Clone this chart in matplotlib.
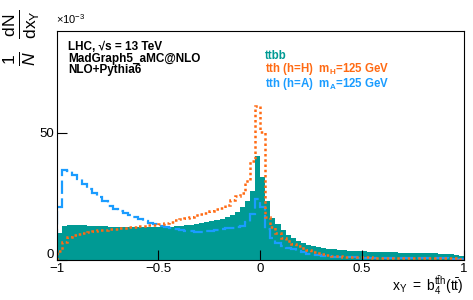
import numpy as np
import matplotlib
matplotlib.use('Agg')
import matplotlib.pyplot as plt
import matplotlib.transforms as mtransforms

plt.rcParams['font.family'] = ['Liberation Sans', 'DejaVu Sans']
plt.rcParams['mathtext.fontset'] = 'custom'
plt.rcParams['mathtext.rm'] = 'Liberation Sans'
plt.rcParams['mathtext.it'] = 'Liberation Sans:italic'
plt.rcParams['mathtext.bf'] = 'Liberation Sans:bold'

# 80 bins on [-1, 1], values in units of 1e-3
bin_edges = np.linspace(-1.0, 1.0, 81)

ttbb = [
    10.5, 13.5, 13.8, 13.8, 13.7, 13.6, 13.5, 13.4, 13.3, 13.2,
    13.1, 13.0, 13.0, 12.9, 12.9, 12.8, 12.8, 12.8, 12.8, 12.8,
    12.9, 13.0, 13.1, 13.2, 13.4, 13.6, 13.8, 14.1, 14.4, 14.8,
    15.2, 15.7, 16.2, 16.9, 17.6, 18.8, 20.8, 23.3, 27.2, 41.0,
    32.5, 23.0, 16.5, 14.0, 11.8, 10.0, 8.7, 7.5, 6.7, 6.0,
    5.5, 5.0, 4.7, 4.4, 4.2, 4.0, 3.9, 3.7, 3.6, 3.5,
    3.4, 3.3, 3.2, 3.2, 3.1, 3.0, 3.0, 2.9, 2.9, 2.8,
    2.8, 2.7, 2.7, 2.6, 2.6, 2.5, 2.5, 2.4, 2.1, 1.5,
]

tth_H = [
    3.5, 7.0, 9.0, 9.8, 10.4, 10.8, 11.1, 11.4, 11.6, 11.8,
    12.0, 12.2, 12.4, 12.6, 12.8, 13.0, 13.2, 13.4, 13.6, 13.8,
    14.1, 14.6, 15.1, 15.6, 16.0, 16.5, 17.0, 17.6, 18.0, 18.6,
    19.2, 19.9, 20.6, 21.8, 23.5, 25.3, 26.5, 31.0, 39.0, 60.5,
    50.5, 17.0, 13.0, 10.5, 8.8, 7.4, 6.3, 5.4, 4.6, 3.9,
    3.3, 2.8, 2.4, 2.0, 1.7, 1.5, 1.3, 1.2, 1.1, 1.1,
    1.0, 1.0, 0.9, 0.9, 0.9, 0.8, 0.8, 0.8, 0.8, 0.7,
    0.7, 0.7, 0.7, 0.7, 0.6, 0.6, 0.6, 0.6, 0.6, 0.5,
]

tth_A = [
    21.0, 35.2, 35.0, 33.5, 32.0, 30.0, 28.0, 26.3, 24.7, 23.0,
    21.3, 20.0, 19.2, 18.3, 17.5, 16.8, 16.0, 15.3, 14.6, 14.0,
    13.5, 13.0, 12.4, 12.0, 11.7, 11.5, 11.3, 11.2, 11.2, 11.3,
    11.5, 11.8, 12.1, 12.4, 12.7, 13.0, 13.4, 15.0, 18.0, 23.8,
    21.0, 12.0, 8.5, 6.8, 5.6, 4.8, 4.2, 3.6, 3.0, 2.5,
    2.1, 1.8, 1.6, 1.4, 1.3, 1.2, 1.1, 1.0, 1.0, 0.9,
    0.9, 0.9, 0.8, 0.8, 0.8, 0.8, 0.7, 0.7, 0.7, 0.7,
    0.7, 0.6, 0.6, 0.6, 0.6, 0.6, 0.6, 0.5, 0.5, 0.5,
]

x_ticks = [-1, -0.5, 0, 0.5, 1]
x_ticklabels = ['\u22121', '\u22120.5', '0', '0.5', '1']
y_ticks = [0, 50]

c_teal = '#009a94'
c_orange = '#ff6a13'
c_blue = '#1a9cff'

fig = plt.figure(figsize=(4.73, 3.00), dpi=100)
ax = fig.add_axes([0.1199, 0.1333, 0.8604, 0.7634])

ax.stairs(ttbb, bin_edges, fill=True, color=c_teal, lw=0)
ax.stairs(tth_A, bin_edges, color=c_blue, lw=1.6, linestyle=(0, (6, 2)))
ax.stairs(tth_H, bin_edges, color=c_orange, lw=1.8, linestyle=(0, (1, 1.1)))

ax.set_xlim(-1, 1)
ax.set_ylim(0, 90)
ax.set_xticks(x_ticks)
ax.set_xticklabels(x_ticklabels)
ax.set_yticks(y_ticks)
ax.tick_params(direction='in', length=7, width=0.8, labelsize=9.5, pad=2)
for s in ax.spines.values():
    s.set_linewidth(0.8)

# raise the "0" on the y axis a little, like ROOT does
ylabels = ax.get_yticklabels()
ylabels[0].set_transform(ylabels[0].get_transform() +
                         mtransforms.ScaledTranslation(0, 5 / 72, fig.dpi_scale_trans))

fig.text(0.118, 0.915, r'$\times10^{-3}$', fontsize=8, ha='left', va='bottom')
fig.text(0.046, 0.97, r'$\frac{1}{N}\;\;\frac{\mathrm{dN}}{\mathrm{dx_{Y}}}$',
         fontsize=18, rotation=90, ha='center', va='top')
fig.text(0.98, 0.01, r'$\mathrm{x_{Y}\ =\ b_{4}^{t\bar{t}h}(t\bar{t})}$',
         fontsize=10, ha='right', va='bottom')

ax.text(0.0285, 0.955, 'LHC, \u221As = 13 TeV', transform=ax.transAxes,
        fontsize=8.5, fontweight='bold', va='top')
ax.text(0.0285, 0.905, 'MadGraph5_aMC@NLO', transform=ax.transAxes,
        fontsize=8.5, fontweight='bold', va='top')
ax.text(0.0285, 0.857, 'NLO+Pythia6', transform=ax.transAxes,
        fontsize=8.5, fontweight='bold', va='top')

ax.text(0.512, 0.915, 'ttbb', transform=ax.transAxes, color=c_teal,
        fontsize=8.3, fontweight='bold', va='top')
ax.text(0.512, 0.868, r'tth (h=H)  m$_{\mathbf{H}}$=125 GeV', transform=ax.transAxes,
        color=c_orange, fontsize=8.3, fontweight='bold', va='top')
ax.text(0.512, 0.805, r'tth (h=A)  m$_{\mathbf{A}}$=125 GeV', transform=ax.transAxes,
        color=c_blue, fontsize=8.3, fontweight='bold', va='top')

fig.savefig('out.png', dpi=100)
